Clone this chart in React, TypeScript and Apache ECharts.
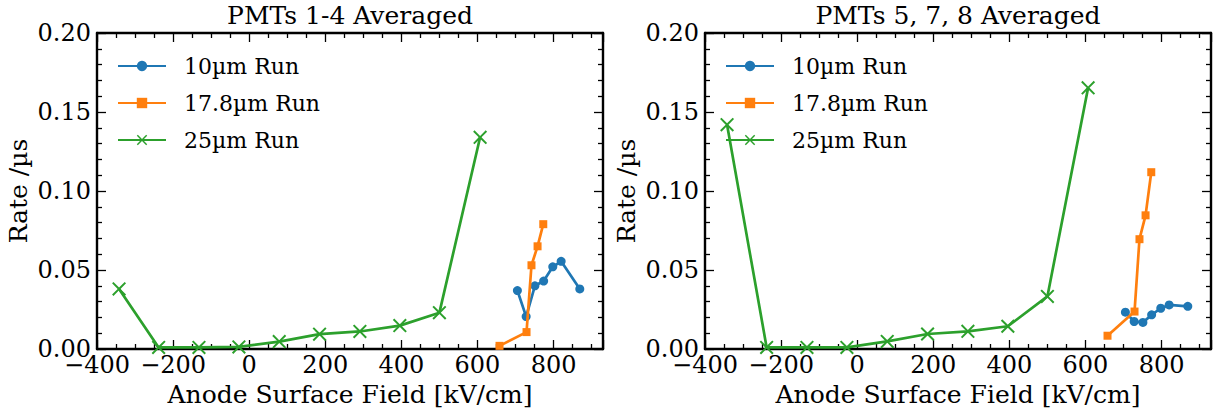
import React, { useEffect, useRef } from "react";
import * as echarts from "echarts";

const panelTitles = ["PMTs 1-4 Averaged", "PMTs 5, 7, 8 Averaged"];
const seriesNames = ["10\u00b5m Run", "17.8\u00b5m Run", "25\u00b5m Run"];

const xBlue = [705, 728, 751, 774, 798, 820, 869];
const yBlueLeft = [0.037, 0.0205, 0.04, 0.043, 0.052, 0.0555, 0.038];
const yBlueRight = [0.0233, 0.0174, 0.0168, 0.0216, 0.0258, 0.0279, 0.027];

const xOrange = [658, 729, 742, 758, 773];
const yOrangeLeft = [0.002, 0.0107, 0.053, 0.065, 0.079];
const yOrangeRight = [0.0084, 0.0237, 0.0695, 0.0846, 0.1119];

const xGreen = [-342, -238, -132, -27, 79, 185, 291, 396, 500, 607];
const yGreenLeft = [0.038, 0.001, 0.001, 0.0013, 0.0047, 0.0094, 0.0111, 0.0148, 0.023, 0.134];
const yGreenRight = [0.142, 0.001, 0.001, 0.001, 0.0048, 0.0095, 0.0112, 0.0144, 0.0333, 0.1653];

const xTickInfo = { min: -400, max: 930, interval: 200 };
const yTickInfo = { min: 0, max: 0.2, interval: 0.05 };

const colors = ["#1f77b4", "#ff7f0e", "#2ca02c"];
const FONT = "DejaVu Serif";
const XMARK = "path://M1,0 L5,4 L9,0 L10,1 L6,5 L10,9 L9,10 L5,6 L1,10 L0,9 L4,5 L0,1 Z";

const pairs = (xs: number[], ys: number[]) => xs.map((x, i) => [x, ys[i]]);

export default function App() {
  const ref = useRef<HTMLDivElement>(null);
  useEffect(() => {
    if (!ref.current) return;
    const chart = echarts.init(ref.current, undefined, { renderer: "svg" });
    const gridLefts = [97, 705];
    const gw = 506;
    const gh = 316;
    const axisLine = { show: true, onZero: false, lineStyle: { color: "#000", width: 2.4 } };
    const tickStyle = { color: "#000", width: 1.3 };
    const xAxes: any[] = [];
    const yAxes: any[] = [];
    gridLefts.forEach((_, g) => {
      xAxes.push({
        type: "value",
        gridIndex: g,
        position: "bottom",
        min: xTickInfo.min,
        max: xTickInfo.max,
        interval: xTickInfo.interval,
        name: "Anode Surface Field [kV/cm]",
        nameLocation: "middle",
        nameGap: 31,
        nameTextStyle: { fontFamily: FONT, fontSize: 25, color: "#000" },
        axisLine,
        axisTick: { show: true, inside: true, length: 9, lineStyle: tickStyle },
        minorTick: { show: true, splitNumber: 4, length: 5, lineStyle: tickStyle },
        splitLine: { show: false },
        axisLabel: {
          show: true,
          showMaxLabel: false,
          margin: 4,
          fontFamily: FONT,
          fontSize: 24,
          color: "#000",
          formatter: (v: number) => String(v).replace("-", "\u2212"),
        },
      });
      xAxes.push({
        type: "value",
        gridIndex: g,
        position: "top",
        min: xTickInfo.min,
        max: xTickInfo.max,
        interval: xTickInfo.interval,
        axisLine,
        axisTick: { show: true, inside: true, length: 9, lineStyle: tickStyle },
        minorTick: { show: true, splitNumber: 4, length: 5, lineStyle: tickStyle },
        splitLine: { show: false },
        axisLabel: { show: false },
      });
      yAxes.push({
        type: "value",
        gridIndex: g,
        position: "left",
        min: yTickInfo.min,
        max: yTickInfo.max,
        interval: yTickInfo.interval,
        name: "Rate /\u00b5s",
        nameLocation: "middle",
        nameGap: 66,
        nameTextStyle: { fontFamily: FONT, fontSize: 25, color: "#000" },
        axisLine,
        axisTick: { show: true, inside: true, length: 9, lineStyle: tickStyle },
        minorTick: { show: true, splitNumber: 5, length: 5, lineStyle: tickStyle },
        splitLine: { show: false },
        axisLabel: {
          show: true,
          margin: 6,
          fontFamily: FONT,
          fontSize: 24,
          color: "#000",
          formatter: (v: number) => v.toFixed(2),
        },
      });
      yAxes.push({
        type: "value",
        gridIndex: g,
        position: "right",
        min: yTickInfo.min,
        max: yTickInfo.max,
        interval: yTickInfo.interval,
        axisLine,
        axisTick: { show: true, inside: true, length: 9, lineStyle: tickStyle },
        minorTick: { show: true, splitNumber: 5, length: 5, lineStyle: tickStyle },
        splitLine: { show: false },
        axisLabel: { show: false },
      });
    });

    const panelData = [
      [pairs(xBlue, yBlueLeft), pairs(xOrange, yOrangeLeft), pairs(xGreen, yGreenLeft)],
      [pairs(xBlue, yBlueRight), pairs(xOrange, yOrangeRight), pairs(xGreen, yGreenRight)],
    ];
    const symbols = ["circle", "rect", XMARK];
    const symbolSizes = [9, 8, 14];
    const series: any[] = [];
    panelData.forEach((sets, g) => {
      sets.forEach((d, i) => {
        series.push({
          type: "line",
          name: seriesNames[i],
          xAxisIndex: g * 2,
          yAxisIndex: g * 2,
          data: d,
          symbol: symbols[i],
          symbolSize: symbolSizes[i],
          showSymbol: true,
          lineStyle: { color: colors[i], width: 2.7 },
          itemStyle: { color: colors[i] },
          z: 2 + i,
        });
      });
    });

    chart.setOption({
      animation: false,
      backgroundColor: "#fff",
      title: panelTitles.map((t, g) => ({
        text: t,
        left: gridLefts[g] + gw / 2,
        textAlign: "center",
        top: 3,
        padding: 0,
        textStyle: { fontFamily: FONT, fontSize: 25, fontWeight: "normal", color: "#000" },
      })),
      legend: gridLefts.map((l, g) => ({
        orient: "vertical",
        left: l + 15,
        top: 50,
        itemWidth: 48,
        itemHeight: 13,
        itemGap: 15,
        data: seriesNames,
        selectedMode: false,
        textStyle: { fontFamily: FONT, fontSize: 22, color: "#000", padding: [0, 0, 0, 13] },
      })),
      grid: gridLefts.map((l) => ({ left: l, top: 33, width: gw, height: gh })),
      xAxis: xAxes,
      yAxis: yAxes,
      series,
    });
    return () => chart.dispose();
  }, []);
  return (
    <div
      ref={ref}
      style={{ position: "fixed", left: 0, top: 0, width: 1216, height: 412, background: "#fff" }}
    />
  );
}
